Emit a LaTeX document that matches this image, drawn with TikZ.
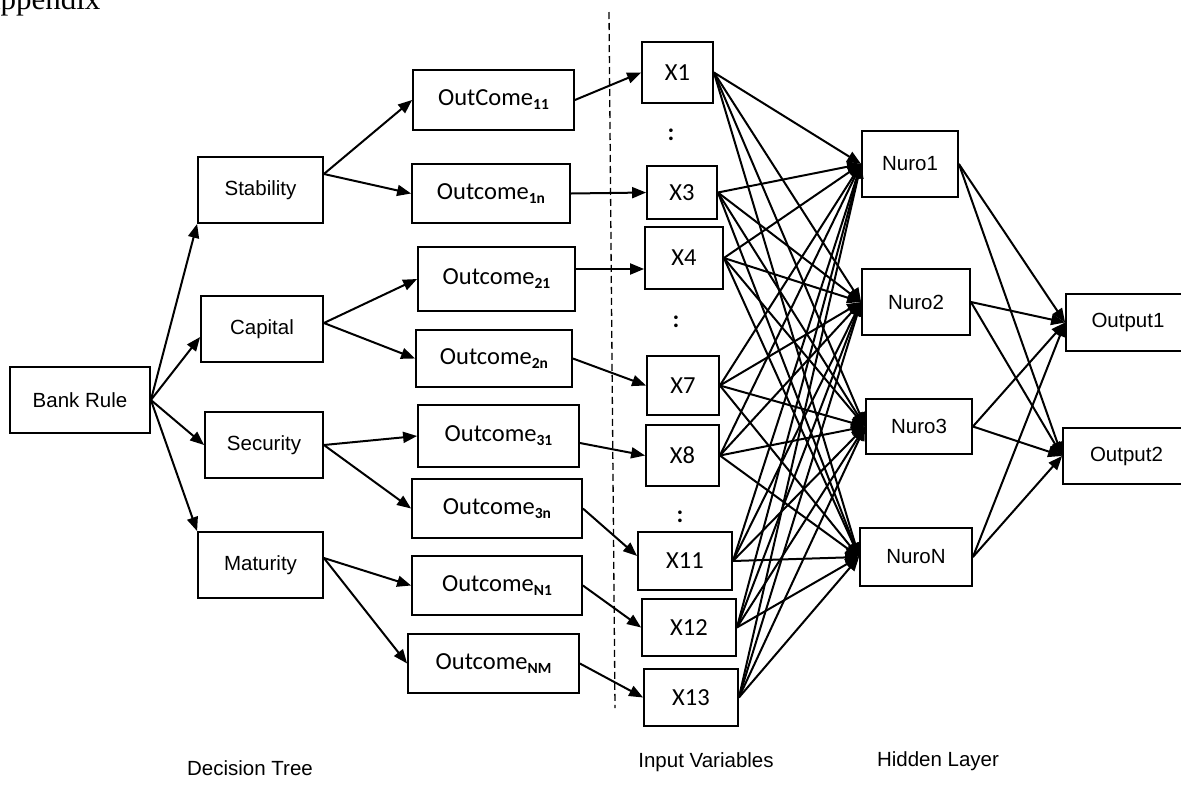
\documentclass[tikz,border=0pt]{standalone}
\usepackage{fontspec}
\setmainfont{Liberation Sans}
\newfontfamily\calfont{Carlito}
\newfontfamily\serfont{Liberation Serif}
\usetikzlibrary{arrows.meta}
\newcommand\subx[1]{\raisebox{-4pt}{\fontsize{15.5}{15.5}\selectfont\bfseries #1}}
\begin{document}
\begin{tikzpicture}[x=1pt,y=-1pt,
  box/.style={draw, line width=1.8pt, inner sep=0pt, font=\fontsize{20.5}{24}\selectfont},
  cbox/.style={box, font=\calfont\fontsize{24.5}{28}\selectfont},
  arr/.style={line width=2pt, -{Triangle[length=14pt,width=11pt]}},
  lab/.style={font=\fontsize{20.5}{24}\selectfont, inner sep=0pt},
  dots/.style={font=\calfont\bfseries\fontsize{24.5}{28}\selectfont, inner sep=0pt}]
\useasboundingbox (0,0) rectangle (1181,785);

\node[anchor=base west, font=\serfont\fontsize{31}{31}\selectfont, inner sep=0pt] (app) at (-22,9) {Appendix};

% decision tree
\node[box, minimum width=140pt, minimum height=66pt] (bank) at (80,400) {Bank Rule};
\node[box, minimum width=125pt, minimum height=66pt] (stab) at (260.5,190) {Stability};
\node[box, minimum width=122pt, minimum height=66pt] (cap) at (262,329) {Capital};
\node[box, minimum width=118pt, minimum height=66pt] (sec) at (264,445) {Security};
\node[box, minimum width=125pt, minimum height=66pt] (mat) at (260.5,565) {Maturity};

\node[cbox, minimum width=161pt, minimum height=60pt] (oc11) at (493.5,100) {OutCome\subx{11}};
\node[cbox, minimum width=158pt, minimum height=59pt] (oc1n) at (491,193.5) {Outcome\subx{1n}};
\node[cbox, minimum width=157pt, minimum height=64pt] (oc21) at (496.5,279) {Outcome\subx{21}};
\node[cbox, minimum width=156pt, minimum height=57pt] (oc2n) at (494,358.5) {Outcome\subx{2n}};
\node[cbox, minimum width=161pt, minimum height=62pt] (oc31) at (498.5,436) {Outcome\subx{31}};
\node[cbox, minimum width=170pt, minimum height=59pt] (oc3n) at (497,508.5) {Outcome\subx{3n}};
\node[cbox, minimum width=170pt, minimum height=59pt] (ocN1) at (497,585.5) {Outcome\subx{N1}};
\node[cbox, minimum width=171pt, minimum height=59pt] (ocNM) at (493.5,663.5) {Outcome\subx{NM}};

% inputs
\node[cbox, minimum width=71pt, minimum height=61pt] (x1) at (677.5,72.5) {X1};
\node[cbox, minimum width=70pt, minimum height=53pt] (x3) at (682,192.5) {X3};
\node[cbox, minimum width=78pt, minimum height=62pt] (x4) at (684,258) {X4};
\node[cbox, minimum width=72pt, minimum height=59pt] (x7) at (683,385.5) {X7};
\node[cbox, minimum width=73pt, minimum height=61pt] (x8) at (682.5,455.5) {X8};
\node[cbox, minimum width=94pt, minimum height=58pt] (x11) at (685,561) {X11};
\node[cbox, minimum width=94pt, minimum height=57pt] (x12) at (689,627.5) {X12};
\node[cbox, minimum width=94pt, minimum height=57pt] (x13) at (691,697.5) {X13};
\node[dots] (d1) at (671,135) {:};
\node[dots] (d2) at (676,322) {:};
\node[dots] (d3) at (680,517) {:};

% hidden
\node[box, minimum width=96pt, minimum height=66pt] (n1) at (910,164) {Nuro1};
\node[box, minimum width=108pt, minimum height=66pt] (n2) at (916,302) {Nuro2};
\node[box, minimum width=106pt, minimum height=55pt] (n3) at (919,426.5) {Nuro3};
\node[box, minimum width=112pt, minimum height=58pt] (nN) at (916,557) {NuroN};

% outputs
\node[box, minimum width=124pt, minimum height=57pt] (o1) at (1128,322.5) {Output1};
\node[box, minimum width=127pt, minimum height=56pt] (o2) at (1126.5,456) {Output2};

% labels
\node[lab] (l1) at (250,768) {Decision Tree};
\node[lab] (l2) at (706,762) {Input Variables};
\node[lab] (l3) at (938,761) {Hidden Layer};

% dashed divider
\coordinate (dt) at (609,12);
\coordinate (db) at (615,708);
\draw[line width=1.3pt, dash pattern=on 7pt off 4pt] (dt) -- (db);

% tree arrows
\draw[arr] (bank.east) -- (stab.south west);
\draw[arr] (bank.east) -- ([yshift=-8pt]cap.west);
\draw[arr] (bank.east) -- (sec.west);
\draw[arr] (bank.east) -- (mat.north west);

\draw[arr] ([yshift=16pt]stab.east) -- (oc11.west);
\draw[arr] ([yshift=16pt]stab.east) -- (oc1n.west);
\draw[arr] ([yshift=6pt]cap.east) -- (oc21.west);
\draw[arr] ([yshift=6pt]cap.east) -- (oc2n.west);
\draw[arr] (sec.east) -- (oc31.west);
\draw[arr] (sec.east) -- (oc3n.west);
\draw[arr] ([yshift=7pt]mat.east) -- (ocN1.west);
\draw[arr] ([yshift=7pt]mat.east) -- (ocNM.west);

\draw[arr] (oc11.east) -- (x1.west);
\draw[arr] (oc1n.east) -- (x3.west);
\draw[arr] ([yshift=10pt]oc21.east) -- ([yshift=10pt]oc21.east -| x4.west);
\draw[arr] (oc2n.east) -- (x7.west);
\draw[arr] ([yshift=-7pt]oc31.east) -- (x8.west);
\draw[arr] (oc3n.east) -- ([yshift=5pt]x11.west);
\draw[arr] (ocN1.east) -- (x12.west);
\draw[arr] (ocNM.east) -- (x13.west);

% network
\foreach \a in {x1,x3,x4,x7,x8,x11,x12,x13}
  \foreach \b in {n1,n2,n3,nN}
    \draw[arr] (\a.east) -- (\b.west);
\foreach \a in {n1,n2,n3,nN}
  \foreach \b in {o1,o2}
    \draw[arr] (\a.east) -- (\b.west);
\end{tikzpicture}
\end{document}
